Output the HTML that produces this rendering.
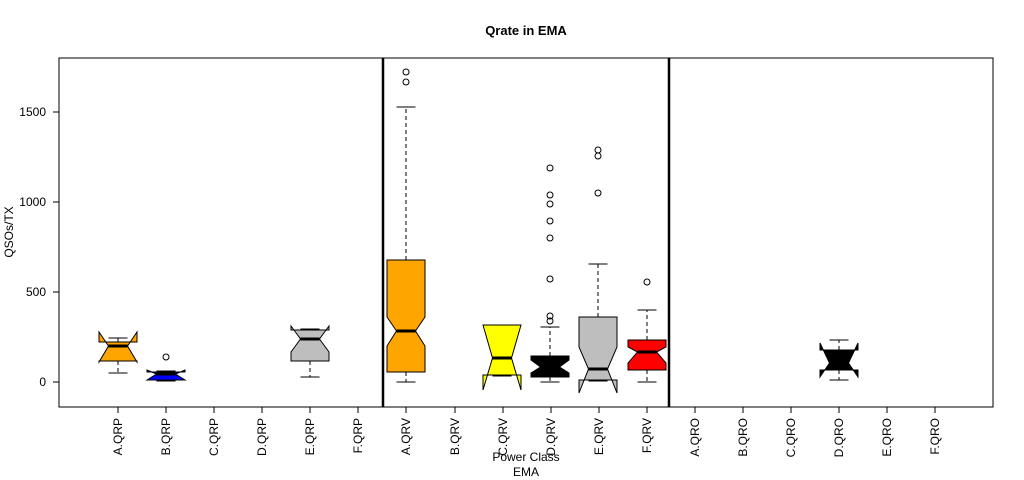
<!DOCTYPE html>
<html><head><meta charset="utf-8"><style>
html,body{margin:0;padding:0;background:#fff;}
svg{display:block;font-family:"Liberation Sans",sans-serif;}
</style></head><body>
<svg width="1024" height="480" viewBox="0 0 1024 480" xmlns="http://www.w3.org/2000/svg">
<rect width="1024" height="480" fill="#fff"/>
<text x="526" y="35" text-anchor="middle" font-size="13" font-weight="bold">Qrate in EMA</text>
<rect x="59" y="58" width="934" height="349" fill="none" stroke="#000" stroke-width="1"/>
<!-- y axis -->
<g stroke="#000" stroke-width="1">
<line x1="53" y1="382" x2="59" y2="382"/><line x1="53" y1="292" x2="59" y2="292"/>
<line x1="53" y1="202" x2="59" y2="202"/><line x1="53" y1="112" x2="59" y2="112"/>
</g>
<g font-size="12" text-anchor="end">
<text x="46" y="386">0</text><text x="46" y="296">500</text>
<text x="46" y="206">1000</text><text x="46" y="116">1500</text>
</g>
<text transform="translate(13,232) rotate(-90)" text-anchor="middle" font-size="12">QSOs/TX</text>
<!-- x ticks -->
<g stroke="#000" stroke-width="1" id="ticks">
<line x1="118" y1="407" x2="118" y2="413"/><line x1="166" y1="407" x2="166" y2="413"/>
<line x1="214" y1="407" x2="214" y2="413"/><line x1="262" y1="407" x2="262" y2="413"/>
<line x1="310" y1="407" x2="310" y2="413"/><line x1="358" y1="407" x2="358" y2="413"/>
<line x1="406" y1="407" x2="406" y2="413"/><line x1="455" y1="407" x2="455" y2="413"/>
<line x1="503" y1="407" x2="503" y2="413"/><line x1="551" y1="407" x2="551" y2="413"/>
<line x1="599" y1="407" x2="599" y2="413"/><line x1="647" y1="407" x2="647" y2="413"/>
<line x1="695" y1="407" x2="695" y2="413"/><line x1="743" y1="407" x2="743" y2="413"/>
<line x1="791" y1="407" x2="791" y2="413"/><line x1="839" y1="407" x2="839" y2="413"/>
<line x1="887" y1="407" x2="887" y2="413"/><line x1="935" y1="407" x2="935" y2="413"/>
</g>
<g font-size="12" text-anchor="end">
<text transform="translate(122,418) rotate(-90)">A.QRP</text>
<text transform="translate(170,418) rotate(-90)">B.QRP</text>
<text transform="translate(218,418) rotate(-90)">C.QRP</text>
<text transform="translate(266,418) rotate(-90)">D.QRP</text>
<text transform="translate(314,418) rotate(-90)">E.QRP</text>
<text transform="translate(362,418) rotate(-90)">F.QRP</text>
<text transform="translate(410,418) rotate(-90)">A.QRV</text>
<text transform="translate(459,418) rotate(-90)">B.QRV</text>
<text transform="translate(507,418) rotate(-90)">C.QRV</text>
<text transform="translate(555,418) rotate(-90)">D.QRV</text>
<text transform="translate(603,418) rotate(-90)">E.QRV</text>
<text transform="translate(651,418) rotate(-90)">F.QRV</text>
<text transform="translate(699,418) rotate(-90)">A.QRO</text>
<text transform="translate(747,418) rotate(-90)">B.QRO</text>
<text transform="translate(795,418) rotate(-90)">C.QRO</text>
<text transform="translate(843,418) rotate(-90)">D.QRO</text>
<text transform="translate(891,418) rotate(-90)">E.QRO</text>
<text transform="translate(939,418) rotate(-90)">F.QRO</text>
</g>
<text x="526" y="461" text-anchor="middle" font-size="12">Power Class</text>
<text x="526" y="476" text-anchor="middle" font-size="12">EMA</text>
<!-- separators -->
<line x1="383" y1="58" x2="383" y2="407" stroke="#000" stroke-width="2.5"/>
<line x1="669" y1="58" x2="669" y2="407" stroke="#000" stroke-width="2.5"/>
<!-- boxes -->
<g stroke="#000" stroke-width="1" fill="none">
<!-- A.QRP -->
<line x1="118" y1="342" x2="118" y2="338" stroke-dasharray="4,3"/><line x1="118" y1="361" x2="118" y2="373" stroke-dasharray="4,3"/>
<line x1="108.5" y1="338" x2="127.5" y2="338"/><line x1="108.5" y1="373" x2="127.5" y2="373"/>
<polygon fill="#FFA500" points="99,361 99,362 108.5,346 99,332 99,342 137,342 137,332 127.5,346 137,362 137,361"/>
<line x1="108.5" y1="346" x2="127.5" y2="346" stroke-width="3"/>
<!-- B.QRP -->
<line x1="166" y1="380" x2="166" y2="381" stroke-dasharray="4,3"/>
<line x1="156.5" y1="381" x2="175.5" y2="381"/><line x1="156.5" y1="371" x2="175.5" y2="371"/>
<polygon fill="#0000FF" points="147,380 147,380 156.5,374 147,370 147,372 185,372 185,370 175.5,374 185,380 185,380"/>
<line x1="156.5" y1="374" x2="175.5" y2="374" stroke-width="3"/>
<circle cx="166" cy="357" r="3"/>
<!-- E.QRP -->
<line x1="310" y1="361" x2="310" y2="377" stroke-dasharray="4,3"/>
<line x1="300.5" y1="329" x2="319.5" y2="329"/><line x1="300.5" y1="377" x2="319.5" y2="377"/>
<polygon fill="#BEBEBE" points="291,361 291,352 300.5,339 291,326 291,330 329,330 329,326 319.5,339 329,352 329,361"/>
<line x1="300.5" y1="339" x2="319.5" y2="339" stroke-width="3"/>
<!-- A.QRV -->
<line x1="406" y1="260" x2="406" y2="107" stroke-dasharray="4,3"/><line x1="406" y1="372" x2="406" y2="382" stroke-dasharray="4,3"/>
<line x1="396.5" y1="107" x2="415.5" y2="107"/><line x1="396.5" y1="382" x2="415.5" y2="382"/>
<polygon fill="#FFA500" points="387,372 387,346 396.5,331 387,317 387,260 425,260 425,317 415.5,331 425,346 425,372"/>
<line x1="396.5" y1="331" x2="415.5" y2="331" stroke-width="3"/>
<circle cx="406" cy="72" r="3"/><circle cx="406" cy="82" r="3"/>
<!-- C.QRV -->
<line x1="492.5" y1="325" x2="511.5" y2="325"/><line x1="492.5" y1="376" x2="511.5" y2="376"/>
<polygon fill="#FFFF00" points="483,375 483,390 492.5,358 483,325 483,325 521,325 521,325 511.5,358 521,390 521,375"/>
<line x1="492.5" y1="358" x2="511.5" y2="358" stroke-width="3"/>
<!-- D.QRV -->
<line x1="550" y1="356" x2="550" y2="327" stroke-dasharray="4,3"/><line x1="550" y1="377" x2="550" y2="382" stroke-dasharray="4,3"/>
<line x1="540.5" y1="327" x2="559.5" y2="327"/><line x1="540.5" y1="382" x2="559.5" y2="382"/>
<polygon fill="#000" points="531,377 531,373 540.5,367 531,360 531,356 569,356 569,360 559.5,367 569,373 569,377"/>
<circle cx="550" cy="168" r="3"/><circle cx="550" cy="195" r="3"/><circle cx="550" cy="204" r="3"/>
<circle cx="550" cy="221" r="3"/><circle cx="550" cy="238" r="3"/><circle cx="550" cy="279" r="3"/>
<circle cx="550" cy="316" r="3"/><circle cx="550" cy="321" r="3"/>
<!-- E.QRV -->
<line x1="598" y1="317" x2="598" y2="264" stroke-dasharray="4,3"/>
<line x1="588.5" y1="264" x2="607.5" y2="264"/><line x1="588.5" y1="381" x2="607.5" y2="381"/>
<polygon fill="#BEBEBE" points="579,380 579,393 588.5,369 579,347 579,317 617,317 617,347 607.5,369 617,393 617,380"/>
<line x1="588.5" y1="369" x2="607.5" y2="369" stroke-width="3"/>
<circle cx="598" cy="150" r="3"/><circle cx="598" cy="156" r="3"/><circle cx="598" cy="193" r="3"/>
<!-- F.QRV -->
<line x1="647" y1="340" x2="647" y2="310" stroke-dasharray="4,3"/><line x1="647" y1="370" x2="647" y2="382" stroke-dasharray="4,3"/>
<line x1="637.5" y1="310" x2="656.5" y2="310"/><line x1="637.5" y1="382" x2="656.5" y2="382"/>
<polygon fill="#FF0000" points="628,370 628,363 637.5,352 628,347 628,340 666,340 666,347 656.5,352 666,363 666,370"/>
<line x1="637.5" y1="352" x2="656.5" y2="352" stroke-width="3"/>
<circle cx="647" cy="282" r="3"/>
<!-- D.QRO -->
<line x1="839" y1="350" x2="839" y2="340" stroke-dasharray="4,3"/><line x1="839" y1="370" x2="839" y2="380" stroke-dasharray="4,3"/>
<line x1="829.5" y1="340" x2="848.5" y2="340"/><line x1="829.5" y1="380" x2="848.5" y2="380"/>
<polygon fill="#000" points="820,370 820,377 829.5,363 820,343 820,350 858,350 858,343 848.5,363 858,377 858,370"/>
</g>
</svg>
</body></html>
